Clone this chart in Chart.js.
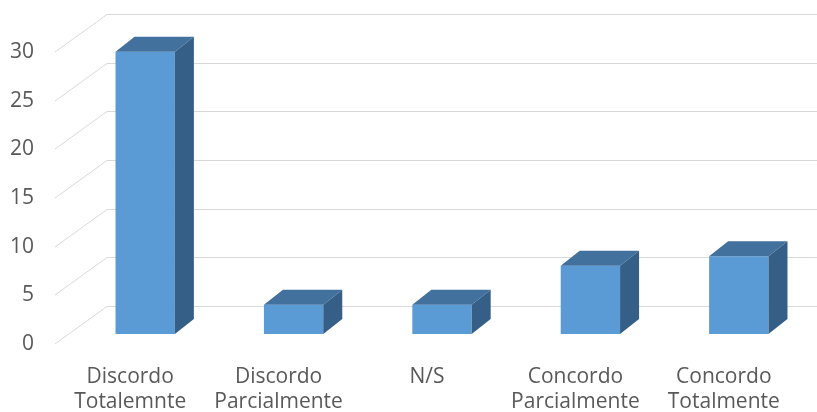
<!DOCTYPE html>
<html>
<head>
<meta charset="utf-8">
<script src="https://cdn.jsdelivr.net/npm/chart.js@4/dist/chart.umd.min.js"></script>
<style>
  html, body { margin: 0; padding: 0; background: #fff; }
  #wrap { width: 817px; height: 412px; }
</style>
</head>
<body>
<div id="wrap"><canvas id="chart"></canvas></div>
<script>
const categories = [
  ["Discordo", "Totalemnte"],
  ["Discordo", "Parcialmente"],
  ["N/S"],
  ["Concordo", "Parcialmente"],
  ["Concordo", "Totalmente"]
];
const counts = [29, 3, 3, 7, 8];
const yTicks = [0, 5, 10, 15, 20, 25, 30];

const frontColor = "#5b9bd5";
const topColor = "#41719c";
const sideColor = "#365f88";
const gridColor = "#d9d9d9";
const textColor = "#595959";

// depth of the box and of the back wall (oblique projection)
const depthX = 19, depthY = -15;
const wallLeft = 55, wallBackX = 107, wallFront = 10, wallBack = -28;

/* ---------- 3D WALL GRID ---------- */
const wallGrid = {
  id: "wallGrid",
  beforeDatasetsDraw(chart) {
    const ctx = chart.ctx;
    const y = chart.scales.y;
    ctx.save();
    ctx.strokeStyle = gridColor;
    ctx.lineWidth = 1;
    yTicks.forEach(v => {
      const p = Math.round(y.getPixelForValue(v));
      ctx.beginPath();
      ctx.moveTo(wallLeft, p + wallFront);
      ctx.lineTo(wallBackX, p + wallBack + 0.5);
      ctx.lineTo(chart.width, p + wallBack + 0.5);
      ctx.stroke();
    });
    ctx.restore();
  }
};

/* ---------- BOX TOP + SIDE ---------- */
const boxFaces = {
  id: "boxFaces",
  afterDatasetsDraw(chart) {
    const ctx = chart.ctx;
    const meta = chart.getDatasetMeta(0);
    ctx.save();
    meta.data.forEach(bar => {
      const l = bar.x - bar.width / 2;
      const r = bar.x + bar.width / 2;
      const t = bar.y;
      const b = bar.base;

      ctx.fillStyle = topColor;
      ctx.beginPath();
      ctx.moveTo(l, t);
      ctx.lineTo(l + depthX, t + depthY);
      ctx.lineTo(r + depthX, t + depthY);
      ctx.lineTo(r, t);
      ctx.closePath();
      ctx.fill();

      ctx.fillStyle = sideColor;
      ctx.beginPath();
      ctx.moveTo(r, t);
      ctx.lineTo(r + depthX, t + depthY);
      ctx.lineTo(r + depthX, b + depthY);
      ctx.lineTo(r, b);
      ctx.closePath();
      ctx.fill();
    });
    ctx.restore();
  }
};

new Chart(document.getElementById("chart"), {
  type: "bar",
  data: {
    labels: categories,
    datasets: [{
      data: counts,
      backgroundColor: frontColor,
      borderWidth: 0,
      barPercentage: 0.4,
      categoryPercentage: 1
    }]
  },
  options: {
    responsive: true,
    maintainAspectRatio: false,
    animation: false,
    layout: { padding: { top: 42, right: 4, left: 0, bottom: 0 } },
    plugins: {
      legend: { display: false },
      tooltip: { enabled: false }
    },
    scales: {
      x: {
        grid: { display: false, drawTicks: false },
        border: { display: false },
        ticks: {
          color: textColor,
          padding: 30,
          labelOffset: -15,
          maxRotation: 0,
          autoSkip: false,
          font: { family: "'Open Sans'", size: 21, lineHeight: 1.22 }
        },
        // fixed height, no side padding from the tick gap
        afterFit: s => { s.height = 78; s.paddingLeft = 0; s.paddingRight = 0; }
      },
      y: {
        min: 0,
        max: 30,
        grid: { display: false, drawTicks: false },
        border: { display: false },
        ticks: {
          stepSize: 5,
          color: textColor,
          padding: 37,
          labelOffset: 10,
          font: { family: "'Open Sans'", size: 21 }
        },
        afterFit: s => { s.width = 71; s.paddingTop = 0; s.paddingBottom = 0; }
      }
    }
  },
  plugins: [wallGrid, boxFaces]
});
</script>
</body>
</html>
